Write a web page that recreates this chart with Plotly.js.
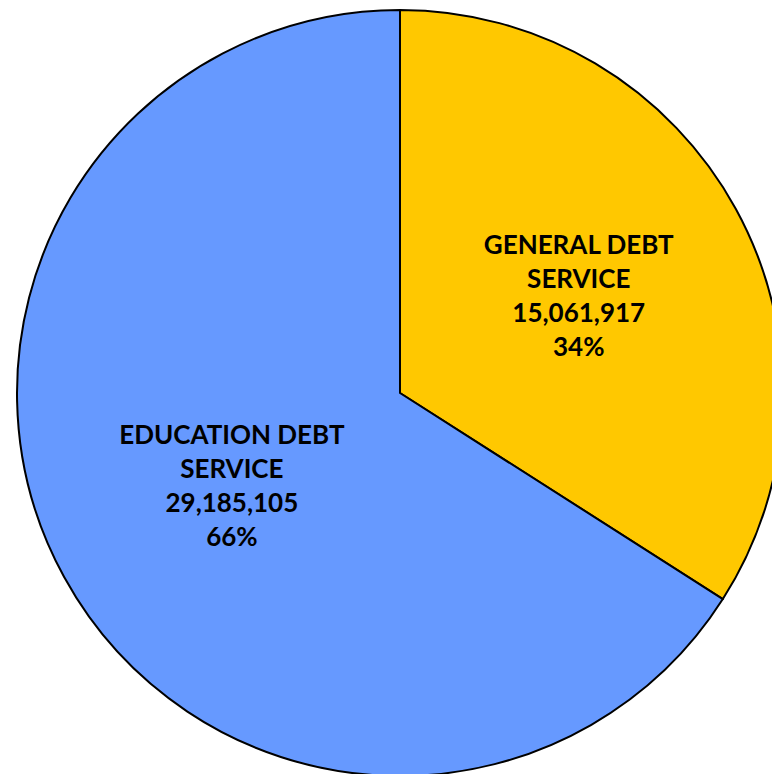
<!DOCTYPE html>
<html><head><meta charset="utf-8">
<script src="https://cdn.plot.ly/plotly-3.0.1.min.js"></script>
<style>html,body{margin:0;padding:0;overflow:hidden;background:#fff;width:772px;height:774px}</style>
</head><body><div id="chart"></div>
<script>
const categories = ["GENERAL DEBT<br>SERVICE", "EDUCATION DEBT<br>SERVICE"];
const values = [15061917, 29185105];
const colors = ["#FFC800", "#6699FF"];

const W = 800, H = 800;
Plotly.newPlot("chart", [{
  type: "pie",
  labels: categories,
  values: values,
  sort: false,
  direction: "clockwise",
  rotation: 0,
  marker: {colors: colors, line: {color: "#000", width: 2}},
  texttemplate: "%{label}<br>%{value:,}<br>%{percent:.0%}",
  textposition: "inside",
  insidetextorientation: "horizontal",
  textfont: {family: "Lato, sans-serif", size: 26, color: "#000", weight: "bold"},
  hoverinfo: "none",
  domain: {x: [17/W, 783/W], y: [(H-776)/H, (H-10)/H]}
}], {
  width: W, height: H,
  margin: {l: 0, r: 0, t: 0, b: 0},
  showlegend: false,
  paper_bgcolor: "#fff"
}, {displayModeBar: false, staticPlot: true});
</script></body></html>
